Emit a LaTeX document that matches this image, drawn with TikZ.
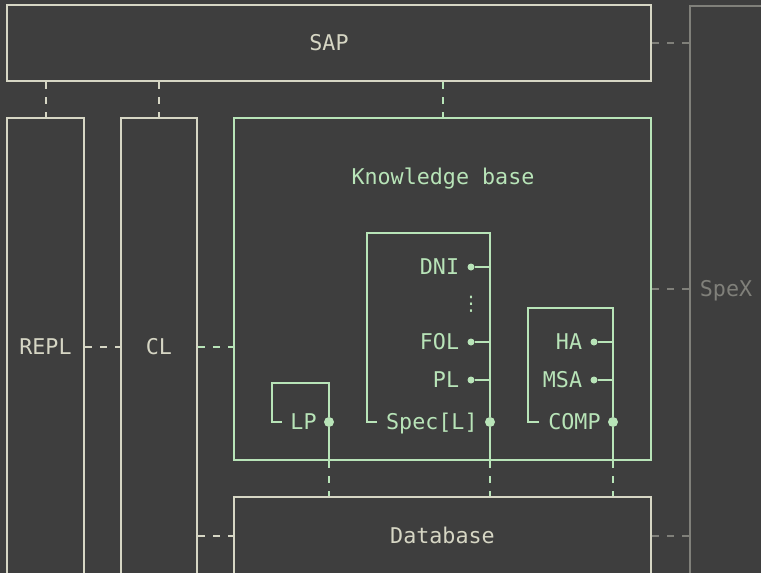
\documentclass[tikz,border=0pt]{standalone}
\usepackage{fontspec}
\setmonofont{DejaVu Sans Mono}
\newfontfamily\symfont{DejaVu Sans}
\usetikzlibrary{positioning}

\definecolor{bgcol}{RGB}{62,62,62}
\definecolor{beige}{RGB}{214,214,196}
\definecolor{kbgreen}{RGB}{184,228,184}
\definecolor{spexgray}{RGB}{128,128,122}

\tikzset{
  box/.style={draw, line width=2pt, inner sep=0pt, text height=15.8pt, text depth=0pt},
  lbl/.style={inner sep=0pt, text height=15.8pt, text depth=0pt, text=kbgreen},
  conn/.style={line width=2pt, dash pattern=on 7pt off 8pt},
  wire/.style={draw, line width=2pt, kbgreen},
  dot/.style={circle, fill=kbgreen, inner sep=0pt, minimum size=7pt},
  bigdot/.style={circle, fill=kbgreen, inner sep=0pt, minimum size=10pt}
}

\begin{document}
\begin{tikzpicture}[x=1pt, y=-1pt, font=\ttfamily\fontsize{21.7}{26}\selectfont]
\fill[bgcol] (0,0) rectangle (761,573);
\useasboundingbox (0,0) rectangle (761,573);
\clip (0,0) rectangle (761,573);

% outer blocks
\node[box, beige, minimum width=644pt, minimum height=76pt] (sap) at (329,43) {SAP};
\node[box, spexgray, minimum width=120pt, minimum height=620pt, anchor=north west] (spex) at (689,5) {};
\node[lbl, text=spexgray] (spexlabel) at (726,289) {SpeX};
\node[box, beige, minimum width=77pt, minimum height=458pt] (repl) at (45.5,347) {REPL};
\node[box, beige, minimum width=76pt, minimum height=458pt] (cl) at (159,347) {CL};
\node[box, kbgreen, minimum width=417pt, minimum height=342pt] (kb) at (442.5,289) {};
\node[lbl] (kblabel) at (443,177) {Knowledge base};
\node[box, beige, minimum width=417pt, minimum height=78pt] (db) at (442.5,536) {Database};

% Spec[L]
\node[bigdot] (specdot) at (490,422) {};
\node[lbl, left=7pt of specdot] (spec) {Spec[L]};
\node[dot] (dnidot) at (471,267) {};
\node[lbl, left=8pt of dnidot] (dni) {DNI};
\node[inner sep=0pt, text=kbgreen, font=\symfont\fontsize{20}{24}\selectfont] (vdots) at (471,304) {⋮};
\node[dot] (foldot) at (471,342) {};
\node[lbl, left=8pt of foldot] (fol) {FOL};
\node[dot] (pldot) at (471,380) {};
\node[lbl, left=8pt of pldot] (pl) {PL};
\path[wire] (377,422) -- (367,422) -- (367,233) -- (490,233) -- (specdot);
\path[wire] (specdot) -- (specdot |- kb.south);
\path[wire] (dnidot) -- (dnidot -| specdot);
\path[wire] (foldot) -- (foldot -| specdot);
\path[wire] (pldot) -- (pldot -| specdot);

% LP
\node[bigdot] (lpdot) at (329,422) {};
\node[lbl, left=7pt of lpdot] (lp) {LP};
\path[wire] (282,422) -- (272,422) -- (272,383) -- (329,383) -- (lpdot);
\path[wire] (lpdot) -- (lpdot |- kb.south);

% COMP
\node[bigdot] (compdot) at (613,422) {};
\node[lbl, left=7pt of compdot] (comp) {COMP};
\node[dot] (hadot) at (594,342) {};
\node[lbl, left=8pt of hadot] (ha) {HA};
\node[dot] (msadot) at (594,380) {};
\node[lbl, left=8pt of msadot] (msa) {MSA};
\path[wire] (539,422) -- (528,422) -- (528,308) -- (613,308) -- (compdot);
\path[wire] (compdot) -- (compdot |- kb.south);
\path[wire] (hadot) -- (hadot -| compdot);
\path[wire] (msadot) -- (msadot -| compdot);

% connectors
\draw[conn, beige] (sap.south -| repl.north) -- (repl.north);
\draw[conn, beige] (sap.south -| cl.north) -- (cl.north);
\draw[conn, kbgreen] (sap.south -| kb.north) -- (kb.north);
\draw[conn, beige] (repl.east) -- (cl.west);
\draw[conn, kbgreen] (cl.east) -- (cl.east -| kb.west);
\draw[conn, beige] (db.west -| cl.east) -- (db.west);
\draw[conn, spexgray] (sap.east) -- (sap.east -| spex.west);
\draw[conn, spexgray] (kb.east) -- (kb.east -| spex.west);
\draw[conn, spexgray] (db.east) -- (db.east -| spex.west);
\draw[conn, kbgreen] (lpdot |- kb.south) -- (lpdot |- db.north);
\draw[conn, kbgreen] (specdot |- kb.south) -- (specdot |- db.north);
\draw[conn, kbgreen] (compdot |- kb.south) -- (compdot |- db.north);
\end{tikzpicture}
\end{document}
